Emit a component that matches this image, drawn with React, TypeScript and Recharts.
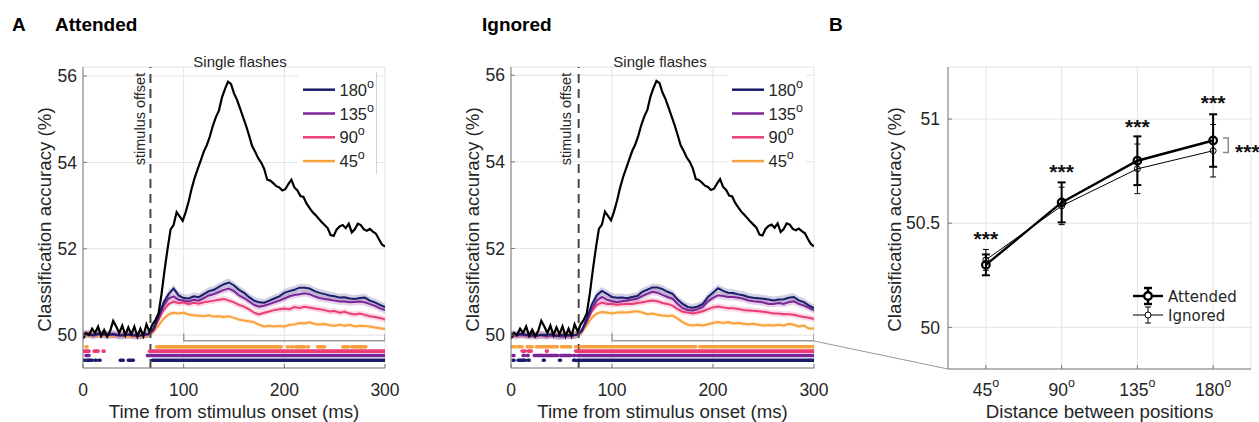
import React from 'react';
import {
  ComposedChart, Line, Area, XAxis, YAxis, CartesianGrid, ReferenceLine,
  Legend, Scatter, ErrorBar, Label,
} from 'recharts';

const FONT = '"Liberation Sans", Arial, Helvetica, sans-serif';
const LEG_FONT = '"DejaVu Sans", Verdana, sans-serif';
const TXT = '#262626';
const AXIS = '#7a7a7a';
const GRID = '#e4e4e4';

// ---------- time courses (panel A) ----------
const timesFine = Array.from({ length: 101 }, (_, i) => i * 3); // ms
const timesCoarse = Array.from({ length: 61 }, (_, i) => i * 5); // ms
const timeTicks = [0, 100, 200, 300];
const accTicks = [50, 52, 54, 56];
const legendDegrees = ['180', '135', '90', '45'];
const seriesColors = ['#1b1c6c', '#7d2597', '#ec3c77', '#f8a23d'];
const stimulusOffsetMs = 67;

const singleFlashes = [
  49.92, 50.05, 50.00, 50.15, 50.05, 50.20, 49.98, 50.12, 49.97, 50.10,
  50.33, 50.20, 50.05, 50.22, 50.00, 50.18, 50.02, 50.20, 49.97, 50.15,
  49.98, 50.25, 50.08, 50.25, 50.35, 50.50, 50.95, 51.50, 52.00, 52.45,
  52.55, 52.85, 52.75, 52.65, 52.85, 53.10, 53.40, 53.65, 53.85, 54.05,
  54.25, 54.40, 54.60, 54.85, 55.05, 55.20, 55.50, 55.70, 55.87, 55.82,
  55.60, 55.45, 55.25, 55.05, 54.85, 54.62, 54.38, 54.25, 54.10, 54.00,
  53.85, 53.60, 53.58, 53.52, 53.45, 53.42, 53.35, 53.38, 53.50, 53.60,
  53.42, 53.35, 53.22, 53.20, 53.05, 52.95, 52.85, 52.78, 52.70, 52.62,
  52.55, 52.48, 52.32, 52.30, 52.45, 52.52, 52.55, 52.48, 52.58, 52.38,
  52.45, 52.58, 52.55, 52.45, 52.42, 52.46, 52.40, 52.35, 52.22, 52.10,
  52.05,
];

const attended180 = [
  50.02, 50.03, 50.00, 50.04, 50.02, 50.01, 50.03, 50.00, 49.99, 50.02,
  50.00, 49.99, 50.01, 50.03, 50.15, 50.45, 50.75, 50.95, 51.08, 50.92,
  50.86, 50.85, 50.90, 50.88, 50.95, 51.02, 51.05, 51.12, 51.18, 51.22,
  51.15, 51.05, 50.98, 50.88, 50.80, 50.76, 50.75, 50.80, 50.85, 50.90,
  50.98, 51.02, 51.05, 51.10, 51.10, 51.08, 51.02, 50.98, 50.95, 50.92,
  50.90, 50.87, 50.88, 50.85, 50.84, 50.86, 50.87, 50.80, 50.76, 50.70,
  50.65,
];
const attended135 = [
  50.00, 50.02, 49.99, 50.01, 50.02, 50.00, 50.01, 49.99, 50.00, 50.01,
  49.99, 49.98, 50.00, 50.02, 50.12, 50.40, 50.68, 50.85, 50.90, 50.82,
  50.80, 50.78, 50.82, 50.80, 50.86, 50.92, 50.95, 51.00, 51.05, 51.08,
  51.02, 50.92, 50.86, 50.78, 50.70, 50.66, 50.68, 50.72, 50.76, 50.80,
  50.85, 50.90, 50.93, 50.95, 50.97, 50.95, 50.90, 50.86, 50.84, 50.82,
  50.80, 50.78, 50.78, 50.76, 50.77, 50.78, 50.76, 50.72, 50.68, 50.62,
  50.58,
];
const attended90 = [
  50.05, 50.04, 50.02, 50.03, 50.01, 50.02, 50.00, 50.01, 50.02, 50.00,
  50.01, 49.99, 50.00, 50.01, 50.10, 50.35, 50.58, 50.72, 50.78, 50.74,
  50.76, 50.72, 50.75, 50.73, 50.76, 50.78, 50.80, 50.82, 50.84, 50.80,
  50.76, 50.70, 50.66, 50.60, 50.52, 50.48, 50.52, 50.55, 50.58, 50.60,
  50.62, 50.60, 50.65, 50.63, 50.66, 50.64, 50.62, 50.60, 50.58, 50.55,
  50.56, 50.52, 50.54, 50.50, 50.48, 50.50, 50.47, 50.44, 50.42, 50.40,
  50.36,
];
const attended45 = [
  49.98, 49.99, 50.00, 49.98, 50.00, 49.99, 49.98, 50.00, 49.99, 49.97,
  49.98, 49.97, 49.98, 50.00, 50.08, 50.22, 50.38, 50.48, 50.52, 50.50,
  50.52, 50.48, 50.46, 50.45, 50.44, 50.46, 50.43, 50.44, 50.42, 50.44,
  50.40, 50.36, 50.34, 50.32, 50.30, 50.24, 50.20, 50.22, 50.20, 50.21,
  50.20, 50.24, 50.25, 50.28, 50.27, 50.30, 50.26, 50.25, 50.26, 50.23,
  50.22, 50.24, 50.22, 50.24, 50.20, 50.22, 50.21, 50.20, 50.18, 50.16,
  50.14,
];

const ignored180 = [
  50.02, 50.01, 50.03, 50.00, 50.02, 49.99, 50.01, 50.00, 50.02, 49.98,
  50.00, 50.01, 49.99, 50.01, 50.10, 50.38, 50.70, 50.92, 51.02, 50.95,
  50.88, 50.86, 50.87, 50.85, 50.88, 50.90, 51.00, 51.05, 51.10, 51.10,
  51.06, 51.00, 50.95, 50.82, 50.72, 50.65, 50.63, 50.66, 50.72, 50.88,
  50.98, 51.08, 51.02, 50.98, 50.97, 50.94, 50.92, 50.88, 50.86, 50.85,
  50.84, 50.82, 50.80, 50.82, 50.83, 50.86, 50.88, 50.80, 50.76, 50.68,
  50.62,
];
const ignored135 = [
  50.00, 49.98, 50.01, 49.99, 49.97, 49.98, 50.00, 49.97, 49.99, 49.98,
  49.96, 49.98, 49.99, 50.00, 50.08, 50.32, 50.60, 50.80, 50.88, 50.82,
  50.78, 50.76, 50.78, 50.80, 50.82, 50.84, 50.90, 50.95, 51.00, 50.98,
  50.93, 50.88, 50.84, 50.72, 50.62, 50.58, 50.57, 50.60, 50.65, 50.78,
  50.86, 50.92, 50.90, 50.88, 50.88, 50.86, 50.84, 50.80, 50.78, 50.77,
  50.75, 50.72, 50.72, 50.74, 50.72, 50.76, 50.78, 50.72, 50.68, 50.63,
  50.58,
];
const ignored90 = [
  50.02, 50.01, 49.99, 50.00, 50.01, 49.99, 50.00, 49.98, 50.00, 50.01,
  49.99, 50.00, 49.99, 50.01, 50.08, 50.30, 50.55, 50.70, 50.75, 50.72,
  50.72, 50.70, 50.71, 50.72, 50.72, 50.74, 50.76, 50.78, 50.80, 50.78,
  50.74, 50.72, 50.68, 50.60, 50.54, 50.52, 50.50, 50.52, 50.55, 50.60,
  50.64, 50.66, 50.64, 50.62, 50.62, 50.60, 50.58, 50.57, 50.56, 50.55,
  50.54, 50.52, 50.50, 50.50, 50.48, 50.48, 50.47, 50.44, 50.42, 50.40,
  50.37,
];
const ignored45 = [
  50.00, 49.99, 50.01, 50.00, 49.98, 50.02, 50.00, 49.99, 50.01, 49.98,
  50.00, 50.01, 49.99, 50.02, 50.06, 50.22, 50.40, 50.50, 50.53, 50.52,
  50.50, 50.52, 50.53, 50.52, 50.54, 50.55, 50.52, 50.48, 50.50, 50.47,
  50.45, 50.44, 50.45, 50.38, 50.30, 50.24, 50.22, 50.24, 50.22, 50.25,
  50.28, 50.30, 50.28, 50.30, 50.27, 50.28, 50.26, 50.25, 50.26, 50.24,
  50.22, 50.23, 50.22, 50.24, 50.22, 50.26, 50.24, 50.20, 50.22, 50.15,
  50.15,
];

// half width of the shaded error band, per series (180, 135, 90, 45)
const attendedBandHalf = [0.09, 0.08, 0.07, 0.05];
const ignoredBandHalf = [0.09, 0.08, 0.07, 0.05];

// significance rows: level on the y axis, and the significant time intervals (ms)
const sigLevels = [49.42, 49.53, 49.63, 49.73];
const attendedSig = [
  [[1, 2], [4, 9], [12, 13], [16, 17], [37, 40], [45, 50], [69, 300]],
  [[3, 6], [64, 300]],
  [[0, 6], [11, 15], [20, 21], [66, 300]],
  [[3, 4], [73, 197], [203, 204], [207, 208], [211, 220], [223, 224], [233, 240], [258, 264], [267, 281]],
];
const ignoredSig = [
  [[2, 3], [7, 14], [17, 18], [32, 33], [48, 49], [62, 64], [66, 69], [71, 300]],
  [[2, 3], [12, 13], [16, 17], [23, 46], [49, 59], [62, 63], [66, 300]],
  [[11, 14], [17, 20], [35, 36], [64, 300]],
  [[0, 4], [7, 11], [16, 21], [25, 46], [50, 59], [64, 65], [69, 183], [187, 300]],
];

// grey bracket marking the averaged window
const bracketTimes = [100, 100, 300, 300];
const bracketLevels = [50.04, 49.87, 49.87, 50.03];

// ---------- panel B ----------
const distLabels = ['45', '90', '135', '180'];
const distIndex = [1, 2, 3, 4];
const attMean = [50.30, 50.60, 50.80, 50.897];
const attSem = [0.05, 0.096, 0.117, 0.126];
const ignMean = [50.324, 50.583, 50.761, 50.848];
const ignSem = [0.05, 0.09, 0.119, 0.126];
const starLevels = [50.449, 50.769, 50.986, 51.10];
const bracketBX = [4.13, 4.2, 4.2, 4.13];
const bracketBY = [50.909, 50.909, 50.84, 50.84];
const sideStarX = [4.29];
const sideStarY = [50.868];

const seriesKeys = ['s180', 's135', 's90', 's45'];

function intervalsToRows(intervals: number[][], level: number) {
  const rows: { t: number; v: number | null }[] = [];
  intervals.forEach(([a, b], k) => {
    if (k > 0) rows.push({ t: (intervals[k - 1][1] + a) / 2, v: null });
    rows.push({ t: a, v: level }, { t: b, v: level });
  });
  return rows;
}

const DegText = ({ x, y, label, size, supSize, supDy }: any) => (
  <text x={x} y={y} fontSize={size} fontFamily={FONT} fill={TXT}>
    {label}
    <tspan dy={supDy} fontSize={supSize}>o</tspan>
  </text>
);

function LegendBox({ edge }: { edge: boolean }) {
  return (
    <div style={{ width: 79, height: 102, background: '#fff', boxSizing: 'border-box', borderRight: edge ? '1px solid #d4d4d4' : 'none' }}>
      <svg width={78} height={102} style={{ display: 'block' }}>
        {legendDegrees.map((d, i) => {
          const cy = 17.7 + i * 23.8;
          return (
            <g key={d}>
              <line x1={5} x2={37} y1={cy} y2={cy} stroke={seriesColors[i]} strokeWidth={2.5} />
              <DegText x={41.5} y={cy + 6} label={d} size={16.5} supSize={12.5} supDy={-8} />
            </g>
          );
        })}
      </svg>
    </div>
  );
}

type PanelProps = {
  left: number; width: number; axisWidth: number; rightGap: number;
  yDomain: [number, number]; curves: number[][]; bandHalf: number[];
  sig: number[][][]; legendLeft: number; legendEdge: boolean; offsetDx: number;
};

function TimePanel(p: PanelProps) {
  const table = timesCoarse.map((t, i) => {
    const row: any = { t };
    seriesKeys.forEach((k, j) => {
      const v = p.curves[j][i];
      row[k] = v;
      row[k + 'band'] = [v - p.bandHalf[j], v + p.bandHalf[j]];
    });
    return row;
  });
  const blackData = timesFine.map((t, i) => ({ t, v: singleFlashes[i] }));
  const bracketData = bracketTimes.map((t, i) => ({ t, v: bracketLevels[i] }));
  const tick = { fill: TXT, fontSize: 17.5, fontFamily: FONT };
  return (
    <div style={{ position: 'absolute', left: p.left, top: 0 }}>
      <ComposedChart width={p.width} height={422} data={table} margin={{ top: 67, right: p.rightGap, bottom: 0, left: 0 }}>
        <CartesianGrid stroke={GRID} strokeWidth={1} />
        <XAxis type="number" dataKey="t" domain={[0, 300]} ticks={timeTicks} allowDataOverflow height={54}
          tickSize={-4} tickMargin={20} stroke={AXIS} tickLine={{ stroke: AXIS }} tick={tick}>
          <Label content={(lp: any) => {
            const vb = lp.viewBox;
            return <text x={vb.x + vb.width / 2} y={vb.y + 50} textAnchor="middle" fontSize={18.7} fontFamily={FONT} fill={TXT}>Time from stimulus onset (ms)</text>;
          }} />
        </XAxis>
        <YAxis type="number" domain={p.yDomain} ticks={accTicks} allowDataOverflow width={p.axisWidth}
          tickSize={-4} tickMargin={10} stroke={AXIS} tickLine={{ stroke: AXIS }} tick={tick}>
          <Label content={(lp: any) => {
            const vb = lp.viewBox;
            const cx = vb.x + vb.width - 38;
            const cy = vb.y + vb.height / 2 + 2;
            return <text x={cx} y={cy} dy="0.33em" transform={`rotate(-90 ${cx} ${cy})`} textAnchor="middle" fontSize={18.7} fontFamily={FONT} fill={TXT}>Classification accuracy (%)</text>;
          }} />
        </YAxis>
        {seriesKeys.map((k, j) => (
          <Area key={k + 'band'} dataKey={k + 'band'} stroke="none" fill={seriesColors[j]} fillOpacity={0.2}
            isAnimationActive={false} legendType="none" dot={false} activeDot={false} />
        ))}
        {[3, 2, 1, 0].map((j) => (
          <Line key={seriesKeys[j]} dataKey={seriesKeys[j]} stroke={seriesColors[j]} strokeWidth={2}
            dot={false} activeDot={false} isAnimationActive={false} legendType="none" />
        ))}
        <ReferenceLine x={stimulusOffsetMs} stroke="#474747" strokeWidth={2} strokeDasharray="9 6"
          label={(lp: any) => {
            const vb = lp.viewBox;
            const cx = vb.x + p.offsetDx;
            const cy = vb.y + 52;
            return <text x={cx} y={cy} dy="0.35em" transform={`rotate(-90 ${cx} ${cy})`} textAnchor="middle" fontSize={14.5} fontFamily={FONT} fill={TXT}>stimulus offset</text>;
          }} />
        <Line data={blackData} dataKey="v" stroke="#000" strokeWidth={2.2} dot={false} activeDot={false}
          isAnimationActive={false} legendType="none" />
        <Line data={bracketData} dataKey="v" stroke="#9a9a9a" strokeWidth={1.5} dot={false} activeDot={false}
          isAnimationActive={false} legendType="none" />
        {p.sig.map((iv, j) => (
          <Line key={'sig' + j} data={intervalsToRows(iv, sigLevels[j])} dataKey="v" stroke={seriesColors[j]}
            strokeWidth={3.6} strokeLinecap="round" connectNulls={false} dot={false} activeDot={false}
            isAnimationActive={false} legendType="none" />
        ))}
        <Legend layout="vertical" align="center" verticalAlign="middle"
          wrapperStyle={{ left: p.legendLeft, top: 72, width: 79, height: 102 }}
          content={() => <LegendBox edge={p.legendEdge} />} />
      </ComposedChart>
    </div>
  );
}

const DistTick = (props: any) => {
  const { x, y, payload } = props;
  return (
    <text x={x} y={y + 12.4} textAnchor="middle" fontSize={17.5} fontFamily={FONT} fill={TXT}>
      {distLabels[payload.value - 1]}
      <tspan dy={-9} fontSize={12.5}>o</tspan>
    </text>
  );
};

const StarShape = (props: any) => (
  <text x={props.cx} y={props.cy + 12} textAnchor="middle" fontSize={21} fontWeight="bold" fontFamily={FONT} fill="#111">***</text>
);
const SideStarShape = (props: any) => (
  <text x={props.cx} y={props.cy + 12} textAnchor="start" fontSize={21} fontWeight="bold" fontFamily={FONT} fill="#111">***</text>
);

function LegendB() {
  const rows = [
    { label: 'Attended', w: 2.4, r: 3.8, cap: 4 },
    { label: 'Ignored', w: 1, r: 3, cap: 3 },
  ];
  return (
    <svg width={130} height={46} style={{ display: 'block' }}>
      {rows.map((r, i) => {
        const cy = 16 + i * 19;
        return (
          <g key={r.label}>
            <line x1={3} x2={33} y1={cy} y2={cy} stroke="#000" strokeWidth={r.w} />
            <line x1={18} x2={18} y1={cy - 8} y2={cy + 8} stroke="#000" strokeWidth={r.w} />
            <line x1={18 - r.cap} x2={18 + r.cap} y1={cy - 8} y2={cy - 8} stroke="#000" strokeWidth={r.w} />
            <line x1={18 - r.cap} x2={18 + r.cap} y1={cy + 8} y2={cy + 8} stroke="#000" strokeWidth={r.w} />
            <circle cx={18} cy={cy} r={r.r} fill="#fff" stroke="#000" strokeWidth={r.w} />
            <text x={38} y={cy + 5.5} fontSize={15} fontFamily={LEG_FONT} fill={TXT}>{r.label}</text>
          </g>
        );
      })}
    </svg>
  );
}

function PanelB() {
  const data = distIndex.map((x, i) => ({
    x, att: attMean[i], attErr: attSem[i], ign: ignMean[i], ignErr: ignSem[i], star: starLevels[i],
  }));
  const bracketData = bracketBX.map((x, i) => ({ x, y: bracketBY[i] }));
  const sideStars = sideStarX.map((x, i) => ({ x, y: sideStarY[i] }));
  const tick = { fill: TXT, fontSize: 17.5, fontFamily: FONT };
  return (
    <div style={{ position: 'absolute', left: 830, top: 0 }}>
      <ComposedChart width={429} height={422} data={data} margin={{ top: 67, right: 8, bottom: 0, left: 0 }}>
        <CartesianGrid stroke={GRID} strokeWidth={1} />
        <XAxis type="number" dataKey="x" domain={[0.5, 4.5]} ticks={distIndex} height={53}
          tickSize={-4} tickMargin={19} stroke={AXIS} tickLine={{ stroke: AXIS }} tick={<DistTick />}>
          <Label content={(lp: any) => {
            const vb = lp.viewBox;
            return <text x={vb.x + vb.width / 2} y={vb.y + 49} textAnchor="middle" fontSize={18.7} fontFamily={FONT} fill={TXT}>Distance between positions</text>;
          }} />
        </XAxis>
        <YAxis type="number" domain={[49.8, 51.25]} ticks={[50, 50.5, 51]} width={118}
          tickSize={-4} tickMargin={12} stroke={AXIS} tickLine={{ stroke: AXIS }} tick={tick}>
          <Label content={(lp: any) => {
            const vb = lp.viewBox;
            const cx = vb.x + vb.width - 53;
            const cy = vb.y + vb.height / 2 + 1.5;
            return <text x={cx} y={cy} dy="0.33em" transform={`rotate(-90 ${cx} ${cy})`} textAnchor="middle" fontSize={18.7} fontFamily={FONT} fill={TXT}>Classification accuracy (%)</text>;
          }} />
        </YAxis>
        <Line dataKey="ign" stroke="#000" strokeWidth={1} isAnimationActive={false} legendType="none" activeDot={false}
          dot={{ r: 3, fill: 'none', stroke: '#000', strokeWidth: 1 }}>
          <ErrorBar dataKey="ignErr" direction="y" width={3} strokeWidth={1} stroke="#000" />
        </Line>
        <Line dataKey="att" stroke="#000" strokeWidth={2.4} isAnimationActive={false} legendType="none" activeDot={false}
          dot={{ r: 3.8, fill: 'none', stroke: '#000', strokeWidth: 2.2 }}>
          <ErrorBar dataKey="attErr" direction="y" width={4} strokeWidth={2} stroke="#000" />
        </Line>
        <Scatter dataKey="star" shape={<StarShape />} isAnimationActive={false} legendType="none" />
        <Line data={bracketData} dataKey="y" stroke="#8c8c8c" strokeWidth={1.5} dot={false} activeDot={false}
          isAnimationActive={false} legendType="none" />
        <Scatter data={sideStars} dataKey="y" shape={<SideStarShape />} isAnimationActive={false} legendType="none" />
        <Legend layout="vertical" align="center" verticalAlign="middle"
          wrapperStyle={{ left: 300, top: 280, width: 130, height: 46 }}
          content={() => <LegendB />} />
      </ComposedChart>
    </div>
  );
}

export default function App() {
  return (
    <div style={{ position: 'absolute', left: 0, top: 0, width: 1259, height: 422, background: '#fff', overflow: 'hidden' }}>
      <TimePanel left={0} width={420} axisWidth={83} rightGap={35} yDomain={[49.24, 56.21]}
        curves={[attended180, attended135, attended90, attended45]} bandHalf={attendedBandHalf}
        sig={attendedSig} legendLeft={298} legendEdge={true} offsetDx={-11} />
      <TimePanel left={420} width={420} axisWidth={91} rightGap={26} yDomain={[49.24, 56.19]}
        curves={[ignored180, ignored135, ignored90, ignored45]} bandHalf={ignoredBandHalf}
        sig={ignoredSig} legendLeft={307} legendEdge={false} offsetDx={-13} />
      <PanelB />
      <svg width={1259} height={422} style={{ position: 'absolute', left: 0, top: 0, pointerEvents: 'none' }}>
        <g fontFamily={FONT} fontWeight="bold" fontSize={19} fill="#000">
          <text x={12} y={31}>A</text>
          <text x={55} y={31}>Attended</text>
          <text x={482} y={31}>Ignored</text>
          <text x={829} y={31}>B</text>
        </g>
        <text x={240} y={66.5} textAnchor="middle" fontSize={15} fontFamily={FONT} fill={TXT}>Single flashes</text>
        <text x={660} y={66.5} textAnchor="middle" fontSize={15} fontFamily={FONT} fill={TXT}>Single flashes</text>
        <line x1={814} y1={341} x2={948} y2={369} stroke="#9a9a9a" strokeWidth={1.2} />
      </svg>
    </div>
  );
}
